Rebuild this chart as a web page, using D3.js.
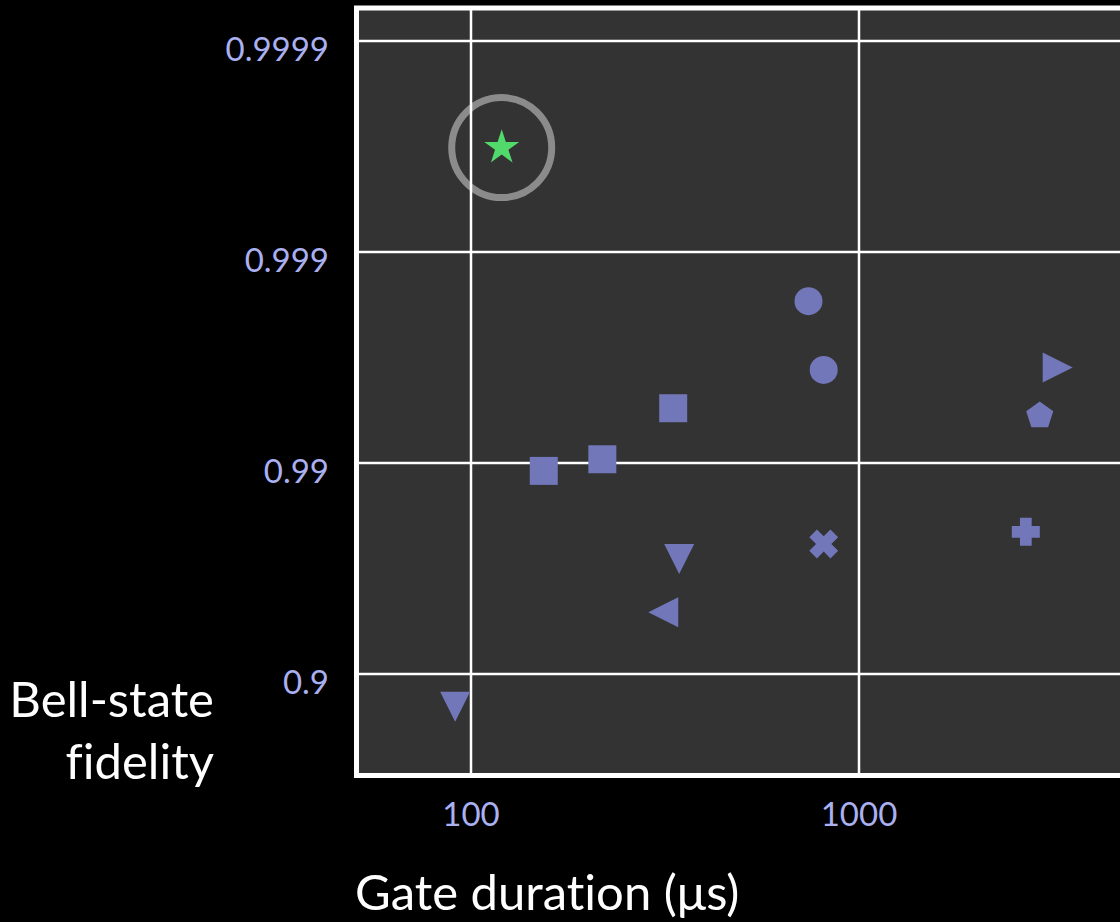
<!DOCTYPE html>
<html>
<head>
<meta charset="utf-8">
<script src="https://cdn.jsdelivr.net/npm/d3@7"></script>
<style>
  html, body { margin: 0; padding: 0; background: #000; }
  svg { display: block; }
  text { font-variant-ligatures: none; }
</style>
</head>
<body>
<div id="chart"></div>
<script>
// gate duration in microseconds, Bell-state fidelity, marker per experiment
const gateDuration = [120, 91, 154, 218, 332, 344, 313, 741, 811, 811, 3252, 2923, 2691];
const fidelity = [0.99968, 0.857, 0.9891, 0.9904, 0.9945, 0.9715, 0.949, 0.99829, 0.99638, 0.9758, 0.99647, 0.99403, 0.9788];
const markerShape = ['star', 'triangleDown', 'square', 'square', 'square', 'triangleDown', 'triangleLeft',
    'circle', 'circle', 'x', 'triangleRight', 'pentagon', 'plus'];
const highlighted = [0];

const xTicks = [100, 1000];
const xTickLabels = ['100', '1000'];
const yTicks = [0.9, 0.99, 0.999, 0.9999];
const yTickLabels = ['0.9', '0.99', '0.999', '0.9999'];

const width = 1120;
const height = 922;
const frame = { left: 356.5, top: 8, right: 1180, bottom: 775.5 };

const markerColor = '#7177b9';
const starColor = '#52d96c';
const tickColor = '#aab0f0';
const fontFamily = 'Lato, "Open Sans", sans-serif';

// fidelity is plotted as log infidelity, so 0.9 / 0.99 / 0.999 are evenly spaced
let x = d3.scaleLog()
    .domain([100, 1000])
    .range([471, 859]);

let y = d3.scaleLog()
    .domain([1 - 0.9, 1 - 0.9999])
    .range([674, 41]);

// custom marker shapes (size = bounding width squared)
const triangleType = {
    draw(ctx, size) {
        let s = Math.sqrt(size);
        ctx.moveTo(0, -s / 2);
        ctx.lineTo(s / 2, s / 2);
        ctx.lineTo(-s / 2, s / 2);
        ctx.closePath();
    }
};
const crossType = arm => ({
    draw(ctx, size) {
        let s = Math.sqrt(size) / 2;
        let a = s * arm;
        ctx.moveTo(-a, -s);
        ctx.lineTo(a, -s);
        ctx.lineTo(a, -a);
        ctx.lineTo(s, -a);
        ctx.lineTo(s, a);
        ctx.lineTo(a, a);
        ctx.lineTo(a, s);
        ctx.lineTo(-a, s);
        ctx.lineTo(-a, a);
        ctx.lineTo(-s, a);
        ctx.lineTo(-s, -a);
        ctx.lineTo(-a, -a);
        ctx.closePath();
    }
});
const pentagonType = {
    draw(ctx, size) {
        let r = Math.sqrt(size) / 2;
        for (let i = 0; i < 5; i++) {
            let ang = -Math.PI / 2 + i * 2 * Math.PI / 5;
            if (i === 0) ctx.moveTo(r * Math.cos(ang), r * Math.sin(ang));
            else ctx.lineTo(r * Math.cos(ang), r * Math.sin(ang));
        }
        ctx.closePath();
    }
};

const shapes = {
    star: { type: d3.symbolStar, size: 380, rotate: 0 },
    circle: { type: d3.symbolCircle, size: 616, rotate: 0 },
    square: { type: d3.symbolSquare, size: 784, rotate: 0 },
    triangleDown: { type: triangleType, size: 900, rotate: 180 },
    triangleLeft: { type: triangleType, size: 900, rotate: -90 },
    triangleRight: { type: triangleType, size: 900, rotate: 90 },
    pentagon: { type: pentagonType, size: 812, rotate: 0 },
    plus: { type: crossType(0.42), size: 784, rotate: 0 },
    x: { type: crossType(0.36), size: 900, rotate: 45 }
};

let points = gateDuration.map((d, i) => ({
    duration: d,
    fidelity: fidelity[i],
    shape: markerShape[i],
    highlight: highlighted.includes(i)
}));

let svg = d3.select('#chart').append('svg')
    .attr('width', width)
    .attr('height', height)
    .style('background', '#000');

// plot background
svg.append('rect')
    .attr('x', frame.left)
    .attr('y', frame.top)
    .attr('width', frame.right - frame.left)
    .attr('height', frame.bottom - frame.top)
    .attr('fill', '#333333');

// grid
svg.append('g').attr('class', 'x-grid')
    .selectAll('line').data(xTicks).enter().append('line')
    .attr('x1', d => x(d)).attr('x2', d => x(d))
    .attr('y1', frame.top).attr('y2', frame.bottom)
    .attr('stroke', '#fff')
    .attr('stroke-width', 2.5);

svg.append('g').attr('class', 'y-grid')
    .selectAll('line').data(yTicks).enter().append('line')
    .attr('x1', frame.left).attr('x2', frame.right)
    .attr('y1', d => y(1 - d)).attr('y2', d => y(1 - d))
    .attr('stroke', '#fff')
    .attr('stroke-width', 2.5);

// frame on top, left, bottom
svg.append('path')
    .attr('d', `M${frame.right},${frame.top}H${frame.left}V${frame.bottom}H${frame.right}`)
    .attr('fill', 'none')
    .attr('stroke', '#fff')
    .attr('stroke-width', 5);

// tick labels
svg.append('g').attr('class', 'x-ticks')
    .selectAll('text').data(xTicks).enter().append('text')
    .attr('x', d => x(d))
    .attr('y', 826)
    .attr('text-anchor', 'middle')
    .attr('font-family', fontFamily)
    .attr('font-size', 33)
    .attr('fill', tickColor)
    .text((d, i) => xTickLabels[i]);

svg.append('g').attr('class', 'y-ticks')
    .selectAll('text').data(yTicks).enter().append('text')
    .attr('x', 329)
    .attr('y', d => y(1 - d) + 20)
    .attr('text-anchor', 'end')
    .attr('font-family', fontFamily)
    .attr('font-size', 33)
    .attr('fill', tickColor)
    .text((d, i) => yTickLabels[i]);

// highlight ring
svg.append('g').attr('class', 'highlight')
    .selectAll('circle').data(points.filter(p => p.highlight)).enter().append('circle')
    .attr('cx', p => x(p.duration))
    .attr('cy', p => y(1 - p.fidelity))
    .attr('r', 50)
    .attr('fill', 'none')
    .attr('stroke', 'rgba(255,255,255,0.43)')
    .attr('stroke-width', 7);

// markers
svg.append('g').attr('class', 'markers')
    .selectAll('path').data(points).enter().append('path')
    .attr('d', p => d3.symbol().type(shapes[p.shape].type).size(shapes[p.shape].size)())
    .attr('transform', p => `translate(${x(p.duration)},${y(1 - p.fidelity)}) rotate(${shapes[p.shape].rotate})`)
    .attr('fill', p => p.shape === 'star' ? starColor : markerColor);

// axis titles
let yTitle = svg.append('text')
    .attr('text-anchor', 'end')
    .attr('font-family', fontFamily)
    .attr('font-size', 49)
    .attr('fill', '#fff');
yTitle.append('tspan').attr('x', 214).attr('y', 717).text('Bell-state');
yTitle.append('tspan').attr('x', 214).attr('y', 779).text('fidelity');

svg.append('text')
    .attr('x', 355)
    .attr('y', 910)
    .attr('font-family', fontFamily)
    .attr('font-size', 49)
    .attr('fill', '#fff')
    .text('Gate duration (μs)');
</script>
</body>
</html>
